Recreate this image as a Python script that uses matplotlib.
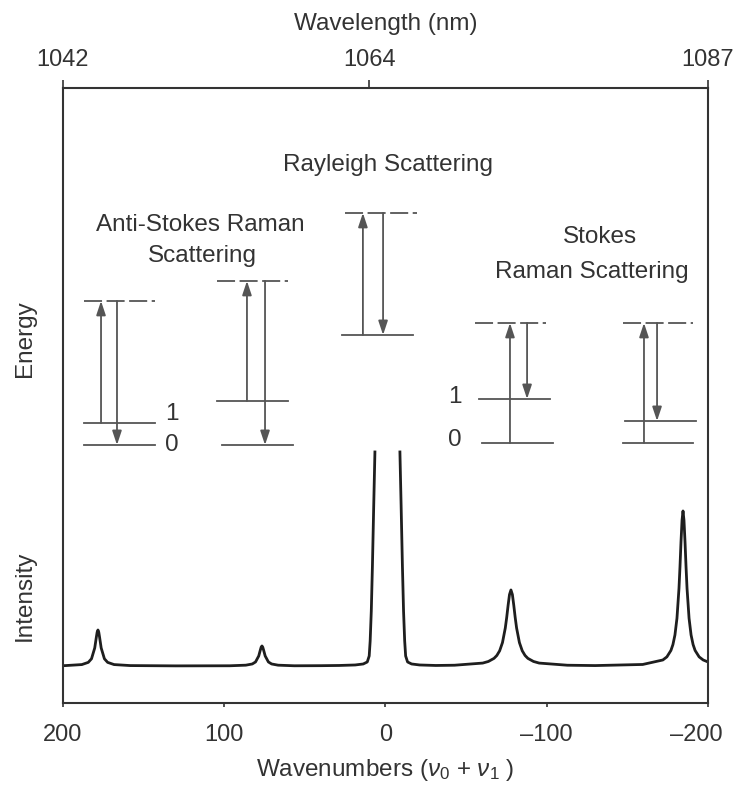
import numpy as np
import matplotlib
matplotlib.use('Agg')
import matplotlib.pyplot as plt
import matplotlib.transforms as mtransforms

plt.rcParams['font.family'] = ['Liberation Sans', 'DejaVu Sans']
plt.rcParams['mathtext.fontset'] = 'custom'
plt.rcParams['mathtext.rm'] = 'Liberation Sans'
plt.rcParams['mathtext.it'] = 'Liberation Sans:italic'

# spectrum (wavenumber shift, intensity a.u.)
# NaN = top of the Rayleigh line is cut off
wavenumber = [200, 198.3, 188.3, 184.3, 182.3, 180.3, 179.3, 178.8, 178.3, 177.8, 177.3,
              176.3, 174.3, 172.3, 168.3, 158.3, 130,
              96.6, 86.6, 82.6, 80.6, 78.6, 77.6, 77.1, 76.6, 76.1, 75.6, 74.6, 72.6,
              70.6, 66.6, 56.6,
              40, 28.8, 18.8, 13.8, 11.3, 10.1, 9.5, 8.8, 8.1, 7.3, 6.55, 0,
              -8.95, -9.7, -10.5, -11.2, -11.9, -12.5, -13.7, -16.2, -21.2, -31.2,
              -42.8, -60.3, -63.8, -67.3, -69.05, -70.8, -72.55, -74.3, -75.175, -76.05,
              -76.9, -77.8, -78.7, -79.55, -80.425, -81.3, -83.05, -84.8, -86.55, -88.3,
              -91.8, -95.3, -112.8,
              -130, -159.5, -172, -174.5, -177, -178.25, -179.5, -180.75, -182, -182.625,
              -183.25, -183.9, -184.5, -185.1, -185.75, -186.375, -187, -188.25, -189.5,
              -190.75, -192, -194.5, -197, -200]
intensity = [0.3, 0.4, 1.4, 3.6, 7.2, 18, 28.8, 33.8, 36, 33.8, 28.8,
             18, 7.2, 3.6, 1.4, 0.4, 0.1,
             0.2, 0.8, 2, 4, 10, 16, 18.8, 20, 18.8, 16, 10, 4,
             2, 0.8, 0.2,
             0.3, 0.5, 1, 2, 4, 10, 25, 55, 100, 160, 214, np.nan,
             214, 160, 100, 55, 25, 10, 4, 2, 1, 0.5,
             0.75, 2.9, 4.5, 7.6, 10.5, 15.2, 23.4, 38, 48.6, 60.8,
             71.4, 76, 71.4, 60.8, 48.6, 38, 23.4, 15.2, 10.5, 7.6,
             4.5, 2.9, 0.75,
             0.4, 1.5, 6, 9.1, 15.5, 21.4, 31, 47.7, 77.5, 99.2,
             124, 145.7, 155, 145.7, 124, 99.2, 77.5, 47.7, 31,
             21.4, 15.5, 9.1, 6, 4]

bottom_ticks = [200, 100, 0, -100, -200]
bottom_labels = ['200', '100', '0', '\u2013100', '\u2013200']
wavelength_labels = ['1042', '1064', '1087']
wavelength_at = [200, 10, -200]   # where the wavelength ticks sit on the shift scale

ink = '#333333'
gray = '#555555'
fs = 17.5

fig = plt.figure(figsize=(7.33, 7.88), dpi=100)
ax = fig.add_axes([0.0859, 0.1079, 0.88, 0.7805])
ax.plot(wavenumber, intensity, color='#1e1e1e', lw=2)
ax.set_xlim(200, -200)
ax.set_ylim(-37, 578)
ax.set_yticks([])
ax.set_xticks(bottom_ticks, labels=bottom_labels)
ax.tick_params(axis='x', direction='out', length=3, width=1.2, pad=12,
               labelsize=17, colors=ink)
# last label is pulled in a little so it stays inside the picture
last = ax.get_xticklabels()[-1]
last.set_transform(last.get_transform() +
                   mtransforms.ScaledTranslation(-0.12, 0, fig.dpi_scale_trans))
for s in ax.spines.values():
    s.set_color(ink)
    s.set_linewidth(1.5)
ax.set_xlabel(r'Wavenumbers ($\nu_0$ + $\nu_1$ )', fontsize=fs, color=ink, labelpad=8)

top = ax.twiny()
top.set_xlim(ax.get_xlim())
top.set_xticks(wavelength_at, labels=wavelength_labels)
top.tick_params(axis='x', direction='out', length=6, width=1.2, pad=6,
                labelsize=17, colors=ink)
top.set_xlabel('Wavelength (nm)', fontsize=fs, color=ink, labelpad=14)
for s in top.spines.values():
    s.set_visible(False)

fig.text(0.034, 0.570, 'Energy', rotation=90, fontsize=fs, color=ink, ha='center', va='center')
fig.text(0.034, 0.244, 'Intensity', rotation=90, fontsize=fs, color=ink, ha='center', va='center')


# energy level diagrams
def level(x0, x1, y, dashed=False):
    ax.plot([x0, x1], [y, y], color=gray, lw=1.3,
            ls=(0, (10, 2.5)) if dashed else '-')


def arrow(x, y0, y1):
    ax.annotate('', xy=(x, y1), xytext=(x, y0),
                arrowprops=dict(arrowstyle='-|>,head_length=0.6,head_width=0.2',
                                color=gray, lw=1.3, shrinkA=0, shrinkB=0,
                                mutation_scale=14))


# anti-Stokes (left)
level(187, 143, 221)
level(187, 143, 243)
level(187, 143, 365, dashed=True)
arrow(176.4, 243, 365)
arrow(166.5, 365, 221)
ax.text(132.4, 252, '1', fontsize=fs, color=ink, ha='center', va='center')
ax.text(132.4, 221, '0', fontsize=fs, color=ink, ha='center', va='center')

# anti-Stokes (second)
level(101.4, 57.4, 221)
level(104.5, 60.5, 265)
level(104.5, 60.5, 385, dashed=True)
arrow(85.9, 265, 385)
arrow(74.7, 385, 221)

# Rayleigh
level(27, -17, 331)
level(25.1, -19.5, 453, dashed=True)
arrow(14, 331, 453)
arrow(1.5, 453, 331)

# Stokes (first)
level(-59.9, -103.9, 223)
level(-58, -102, 267)
level(-55.5, -99.5, 343, dashed=True)
arrow(-77.2, 223, 343)
arrow(-87.8, 343, 267)
ax.text(-43.1, 269, '1', fontsize=fs, color=ink, ha='center', va='center')
ax.text(-43.1, 226, '0', fontsize=fs, color=ink, ha='center', va='center')

# Stokes (second)
level(-147.3, -190.7, 223)
level(-148.5, -192.6, 245)
level(-147.3, -190.7, 343, dashed=True)
arrow(-160.3, 223, 343)
arrow(-168.4, 343, 245)

ax.text(-1.5, 501, 'Rayleigh Scattering', fontsize=fs, color=ink, ha='center', va='center')
ax.text(115, 441, 'Anti-Stokes Raman', fontsize=fs, color=ink, ha='center', va='center')
ax.text(113.8, 410, 'Scattering', fontsize=fs, color=ink, ha='center', va='center')
ax.text(-133, 429, 'Stokes', fontsize=fs, color=ink, ha='center', va='center')
ax.text(-128, 394, 'Raman Scattering', fontsize=fs, color=ink, ha='center', va='center')

fig.savefig('out.png', dpi=100)
